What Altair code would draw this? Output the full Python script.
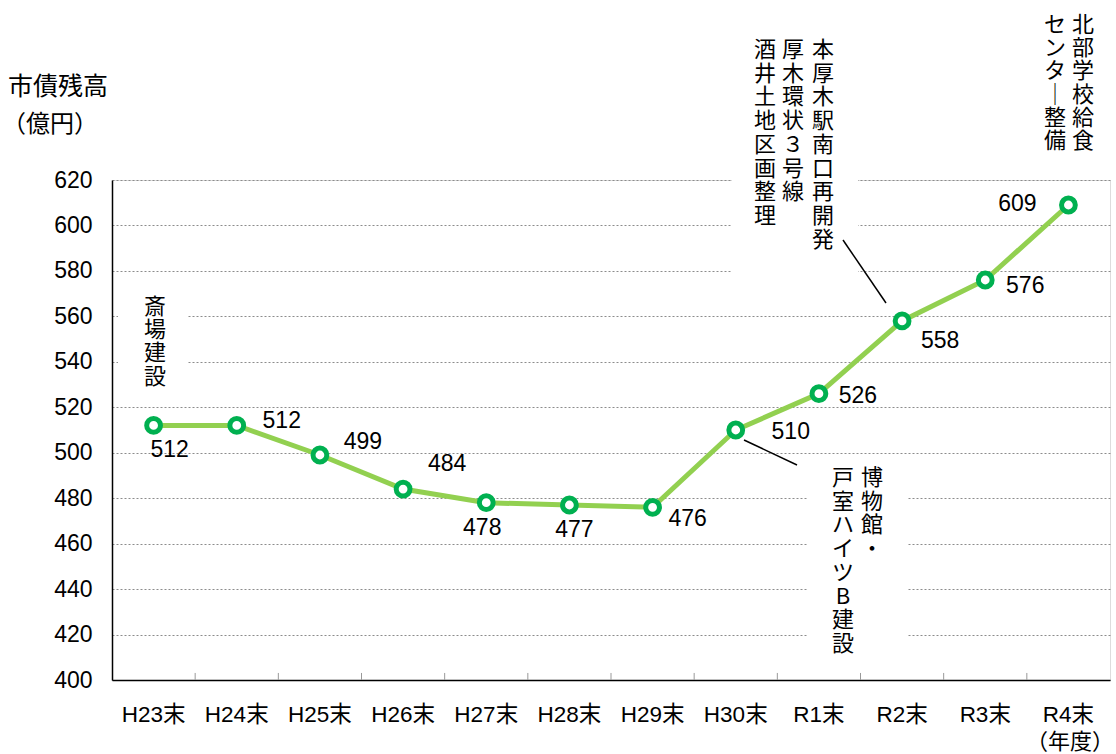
import altair as alt
import pandas as pd

categories = ["H23末", "H24末", "H25末", "H26末", "H27末", "H28末",
              "H29末", "H30末", "R1末", "R2末", "R3末", "R4末"]
balances = [512, 512, 499, 484, 478, 477, 476, 510, 526, 558, 576, 609]
y_ticks = [400, 420, 440, 460, 480, 500, 520, 540, 560, 580, 600, 620]

# label placement (dx, dy) per point
label_offsets = [(16, 25), (45, -4), (43, -13), (44, -25), (-4, 25), (5, 25),
                 (35, 12), (55, 2), (39, 2), (38, 20), (40, 6), (-51, -1)]

df = pd.DataFrame({"cat": categories, "val": balances})

LATIN = "Liberation Sans, Noto Sans CJK JP"
CJK = "Noto Sans CJK JP"
OX, OY = 112, 180  # plot origin in page pixels

x_axis = alt.Axis(title=None, labelAngle=0, labelFontSize=22.5, labelFont=LATIN,
                  labelColor="black", ticks=False, domainColor="black",
                  domainWidth=1.5, labelPadding=23, grid=False)
y_axis = alt.Axis(title=None, values=y_ticks, grid=True, gridDash=[2, 2],
                  gridColor="#8c8c8c", gridWidth=1, ticks=False,
                  domainColor="black", domainWidth=1.5, labelPadding=20,
                  labelFontSize=23, labelFont=LATIN, labelColor="black")

xscale = alt.Scale(type="band", paddingInner=0, paddingOuter=0)
yscale = alt.Scale(domain=[400, 620], nice=False, zero=False)


def xenc(bp):
    return alt.X("cat:N", sort=categories, bandPosition=bp, scale=xscale, axis=x_axis)


def yenc():
    return alt.Y("val:Q", scale=yscale, axis=y_axis)


base = alt.Chart(df)


def white_box(x1, x2, y1, y2):
    return alt.Chart(pd.DataFrame({"k": [0]})).mark_rect(fill="white").encode(
        x=alt.value(x1 - OX), x2=alt.value(x2 - OX),
        y=alt.value(y1 - OY), y2=alt.value(y2 - OY))


def leader(x1, y1, x2, y2):
    return alt.Chart(pd.DataFrame({"k": [0]})).mark_rule(color="black", strokeWidth=1.5).encode(
        x=alt.value(x1 - OX), x2=alt.value(x2 - OX),
        y=alt.value(y1 - OY), y2=alt.value(y2 - OY))


def vtext(s, xc, ytop, size=22, lh=23.7):
    return alt.Chart(pd.DataFrame({"t": ["\n".join(list(s))]})).mark_text(
        align="center", baseline="top", lineBreak="\n", lineHeight=lh,
        fontSize=size, font=CJK, color="black").encode(
        x=alt.value(xc - OX), y=alt.value(ytop - OY), text="t:N")


def htext(s, x, y, align="left", size=24):
    return alt.Chart(pd.DataFrame({"t": [s]})).mark_text(
        align=align, baseline="middle", fontSize=size, font=CJK, color="black").encode(
        x=alt.value(x - OX), y=alt.value(y - OY), text="t:N")


ticks = alt.Chart(pd.DataFrame({"cat": categories[1:]})).mark_rule(
    color="#999999", strokeWidth=1).encode(
    x=xenc(0), y=alt.Y(datum=400, scale=yscale, axis=y_axis), y2=alt.Y2(datum=403.1))

line = base.mark_line(color="#92d050", strokeWidth=5).encode(x=xenc(0.5), y=yenc())

points = base.mark_point(shape="circle", filled=True, fill="white",
                         stroke="#00b050", strokeWidth=5, size=190, opacity=1).encode(
    x=xenc(0.5), y=yenc())

value_labels = []
for i, (dx, dy) in enumerate(label_offsets):
    value_labels.append(
        base.transform_filter(alt.datum.cat == categories[i]).mark_text(
            dx=dx, dy=dy, fontSize=23, font=LATIN, color="black",
            align="center", baseline="middle").encode(
            x=xenc(0.5), y=yenc(), text="val:Q"))

boxes = [
    white_box(118, 188, 288, 398),
    white_box(732, 858, 168, 292),
    white_box(808, 907, 460, 665),
]

annotations = [
    vtext("斎場建設", 155, 297, lh=23.2),
    vtext("本厚木駅南口再開発", 823, 40),
    vtext("厚木環状３号線", 793, 40),
    vtext("酒井土地区画整理", 765, 40),
    vtext("北部学校給食", 1083, 15, lh=23.2),
    vtext("センタ│整備", 1055, 15, lh=23.2),
    vtext("博物館・", 872, 468),
    vtext("戸室ハイツB建設", 843, 468),
    leader(843, 240, 886, 303),
    leader(744, 440, 797, 465),
    htext("市債残高", 8, 87, size=25),
    htext("（億円）", 2, 125, size=24),
    htext("（年度）", 1114, 742, align="right", size=22),
]

chart = alt.layer(line, *boxes, ticks, points, *value_labels, *annotations).properties(
    width=998, height=500,
    padding={"left": OX, "top": OY, "right": 6, "bottom": 74},
    autosize=alt.AutoSizeParams(type="none"),
).configure_view(stroke="#a6a6a6", strokeWidth=1.5).configure(background="white")

chart.save("out.html", embed_options={"renderer": "svg", "actions": False})
